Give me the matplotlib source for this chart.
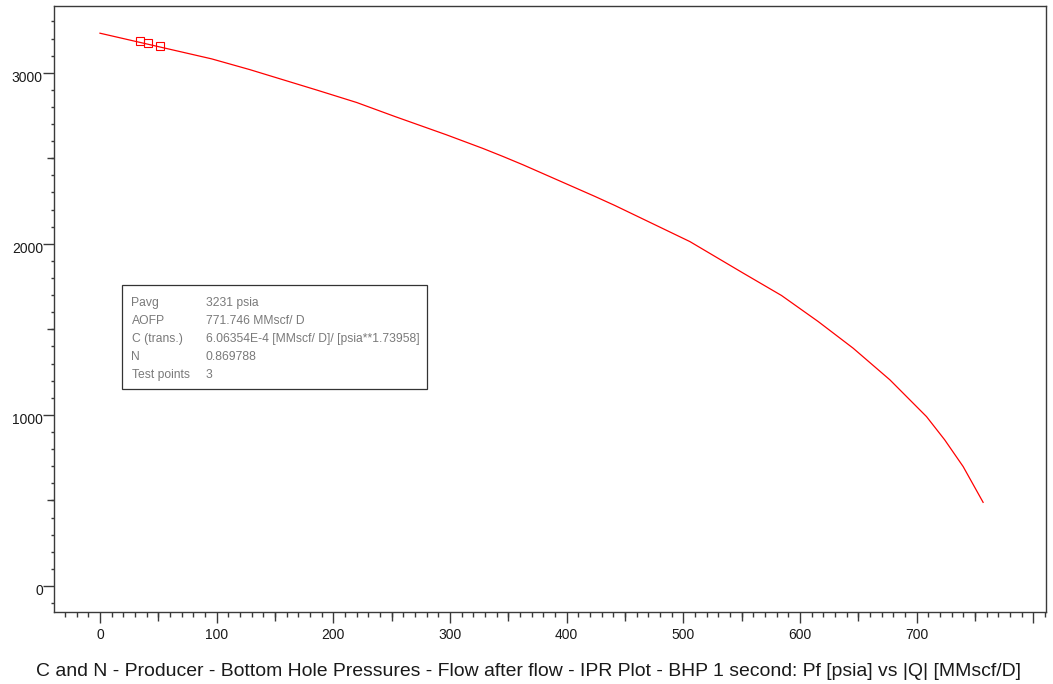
import matplotlib
matplotlib.use("Agg")
import matplotlib.pyplot as plt
import matplotlib.transforms as mtransforms
from matplotlib.ticker import MultipleLocator, FixedLocator, FuncFormatter

plt.rcParams['font.family'] = ['Liberation Sans', 'DejaVu Sans']

# IPR curve (|Q| in MMscf/D, Pf in psia)
curve_q = [0, 95.7, 128.5, 185.7, 220, 252.8, 297, 328, 345.6, 362.5, 424.2,
           441.3, 505.6, 551.2, 584.1, 615.5, 645.5, 677, 708.4, 724, 739.8, 756.9]
curve_p = [3231, 3081, 3018, 2899, 2826, 2744, 2637, 2558, 2510, 2462, 2277,
           2224, 2013, 1829, 1698, 1546, 1390, 1205, 990, 854, 698, 489]

# Test points
test_q = [34.3, 40.9, 51.4]
test_p = [3186, 3175, 3159]

# tick labels shown on the x axis (800 tick is unlabeled in the reference)
x_labeled = [0, 100, 200, 300, 400, 500, 600, 700]

info_labels = ["Pavg", "AOFP", "C (trans.)", "N", "Test points"]
info_values = ["3231 psia", "771.746 MMscf/ D",
               "6.06354E-4 [MMscf/ D]/ [psia**1.73958]", "0.869788", "3"]

title = "C and N - Producer - Bottom Hole Pressures - Flow after flow - IPR Plot - BHP 1 second: Pf [psia] vs |Q| [MMscf/D]"

W, H = 1053, 684
fig = plt.figure(figsize=(W / 100, H / 100), dpi=100)
rect = [54 / W, (H - 612) / H, 992 / W, 606 / H]
ax = fig.add_axes(rect)

xlim = (-39.4, 810.8)
ylim = (-152, 3390)
axis_col = '#3a3a3a'

ax.plot(curve_q, curve_p, color='#ff0000', lw=0.9, zorder=3)
ax.plot(test_q, test_p, linestyle='none', marker='s', ms=5.8, mfc='none',
        mec='#ff0000', mew=0.8, zorder=4)

ax.set_xlim(*xlim)
ax.set_ylim(*ylim)

ax.xaxis.set_major_locator(MultipleLocator(100))
ax.xaxis.set_minor_locator(MultipleLocator(10))
ax.yaxis.set_major_locator(MultipleLocator(1000))
ax.yaxis.set_minor_locator(MultipleLocator(100))
ax.xaxis.set_major_formatter(FuncFormatter(
    lambda v, p: f"{int(round(v))}" if int(round(v)) in x_labeled else ""))
ax.yaxis.set_major_formatter(FuncFormatter(lambda v, p: f"{int(round(v))}"))

for s in ax.spines.values():
    s.set_color(axis_col)
    s.set_linewidth(1.0)

ax.tick_params(axis='both', which='major', direction='out', length=8,
               width=1.0, color=axis_col, labelsize=10, labelcolor='#1a1a1a')
ax.tick_params(axis='x', which='major', pad=3.4)
ax.tick_params(axis='y', which='major', pad=0)
ax.tick_params(axis='x', which='minor', direction='out', length=3.6,
               width=1.0, color=axis_col)
ax.tick_params(axis='y', which='minor', direction='out', length=2.5,
               width=1.0, color=axis_col)

# shift y tick labels slightly downward like the reference
offset = mtransforms.ScaledTranslation(0, -4 / 100, fig.dpi_scale_trans)
for lab in ax.get_yticklabels():
    lab.set_transform(lab.get_transform() + offset)

# medium ticks (at 50s on x, 500s on y) via an overlay axes
ax2 = fig.add_axes(rect, frameon=False)
ax2.set_xlim(*xlim)
ax2.set_ylim(*ylim)
ax2.patch.set_visible(False)
ax2.xaxis.set_major_locator(FixedLocator([50, 150, 250, 350, 450, 550, 650, 750]))
ax2.yaxis.set_major_locator(FixedLocator([500, 1500, 2500]))
ax2.tick_params(axis='x', which='major', direction='out', length=6.5, width=1.0,
                color=axis_col, labelbottom=False)
ax2.tick_params(axis='y', which='major', direction='out', length=5, width=1.0,
                color=axis_col, labelleft=False)
ax2.xaxis.set_minor_locator(FixedLocator([]))
ax2.yaxis.set_minor_locator(FixedLocator([]))

# info box
box_x0, box_y0, box_x1, box_y1 = 122, 285, 427, 389
fig.patches.append(plt.Rectangle((box_x0 / W, 1 - box_y1 / H),
                                 (box_x1 - box_x0) / W, (box_y1 - box_y0) / H,
                                 transform=fig.transFigure, fill=True,
                                 facecolor='white', edgecolor='#333333',
                                 lw=0.9, zorder=5))
row_y0 = 302.7
row_dy = 18.1
for i, (lab, val) in enumerate(zip(info_labels, info_values)):
    yy = 1 - (row_y0 + i * row_dy) / H
    fig.text(131.5 / W, yy, lab, fontsize=8.7, color='#7a7a7a', va='center',
             ha='left', zorder=6)
    fig.text(205.5 / W, yy, val, fontsize=8.7, color='#7a7a7a', va='center',
             ha='left', zorder=6)

fig.text(529 / W, 1 - 676 / H, title, fontsize=13.95, color='#1a1a1a',
         ha='center', va='baseline')

fig.savefig("out.png", dpi=100, facecolor='white')
